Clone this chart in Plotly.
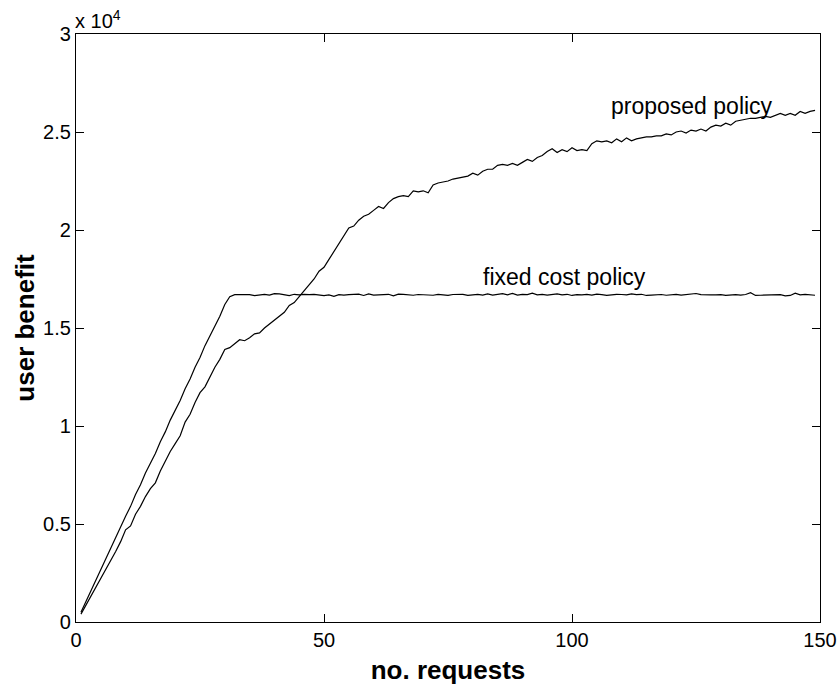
import plotly.graph_objects as go

requests = list(range(1, 150))

proposed = [
    400, 850, 1300, 1800, 2250, 2700, 3150, 3600, 4100, 4700,
    4900, 5500, 5900, 6400, 6800, 7100, 7700, 8200, 8700, 9100,
    9500, 10200, 10600, 11200, 11700, 12000, 12500, 13000, 13400, 13900,
    14000, 14200, 14400, 14350, 14500, 14700, 14750, 15000, 15200, 15400,
    15600, 15800, 16150, 16300, 16600, 16900, 17200, 17500, 17900, 18100,
    18500, 18900, 19300, 19700, 20100, 20200, 20500, 20700, 20800, 21000,
    21200, 21100, 21400, 21600, 21700, 21750, 21700, 22000, 21950, 22000,
    21900, 22300, 22400, 22450, 22500, 22600, 22650, 22700, 22750, 22900,
    22800, 23000, 23100, 23100, 23300, 23350, 23300, 23400, 23300, 23450,
    23600, 23500, 23700, 23800, 24000, 24150, 23950, 24100, 24000, 24200,
    24050, 24100, 24050, 24400, 24550, 24500, 24550, 24450, 24650, 24500,
    24700, 24550, 24650, 24700, 24750, 24750, 24800, 24800, 24900, 24850,
    25000, 25050, 24950, 25100, 25050, 25150, 25050, 25250, 25350, 25300,
    25450, 25350, 25550, 25600, 25650, 25700, 25700, 25750, 25800, 25750,
    25850, 25950, 25850, 25950, 25850, 26050, 25950, 26050, 26100,
]

fixed_cost = [
    500, 1050, 1600, 2150, 2700, 3250, 3750, 4300, 4900, 5400,
    5900, 6500, 7000, 7600, 8100, 8600, 9200, 9700, 10300, 10800,
    11300, 11900, 12400, 13000, 13500, 14100, 14600, 15100, 15600, 16200,
    16600, 16700, 16700, 16680, 16700, 16650, 16700, 16720, 16680, 16750,
    16740, 16700, 16650, 16720, 16690, 16720, 16700, 16720, 16680, 16650,
    16690, 16620, 16700, 16680, 16700, 16720, 16730, 16660, 16740, 16680,
    16690, 16730, 16720, 16640, 16730, 16720, 16700, 16670, 16710, 16690,
    16700, 16670, 16720, 16690, 16660, 16710, 16700, 16720, 16670, 16700,
    16720, 16680, 16740, 16680, 16720, 16750, 16690, 16760, 16680, 16720,
    16700, 16780, 16690, 16720, 16680, 16700, 16740, 16690, 16720, 16660,
    16700, 16690, 16720, 16680, 16730, 16700, 16660, 16690, 16720, 16710,
    16690, 16740, 16700, 16720, 16660, 16680, 16700, 16710, 16670, 16700,
    16720, 16680, 16700, 16720, 16760, 16700, 16680, 16690, 16690, 16700,
    16660, 16680, 16700, 16680, 16710, 16800, 16660, 16670, 16680, 16660,
    16690, 16700, 16640, 16660, 16780, 16690, 16720, 16680, 16670,
]

x_ticks = [0, 50, 100, 150]
y_tickvals = [0, 5000, 10000, 15000, 20000, 25000, 30000]
y_ticktext = ["0", "0.5", "1", "1.5", "2", "2.5", "3"]

FONT = "Liberation Sans, Arial, Helvetica, sans-serif"

fig = go.Figure()
fig.add_trace(go.Scatter(x=requests, y=proposed, mode="lines",
                         line=dict(color="black", width=1.2), showlegend=False))
fig.add_trace(go.Scatter(x=requests, y=fixed_cost, mode="lines",
                         line=dict(color="black", width=1.2), showlegend=False))

fig.add_annotation(x=124.1, y=26350, text="proposed policy", showarrow=False,
                   xref="x", yref="y", font=dict(size=23, color="black", family=FONT))
fig.add_annotation(x=98.4, y=17600, text="fixed cost policy", showarrow=False,
                   xref="x", yref="y", font=dict(size=23, color="black", family=FONT))
fig.add_annotation(x=0, y=1.0, xref="paper", yref="paper", xanchor="left", yanchor="bottom",
                   yshift=0, xshift=-3, text="x 10<sup>4</sup>", showarrow=False,
                   font=dict(size=20, color="black", family=FONT))

fig.update_layout(
    width=837, height=685,
    margin=dict(l=76, r=17, t=34, b=63),
    paper_bgcolor="white", plot_bgcolor="white",
    font=dict(family=FONT, color="black", size=20),
    xaxis=dict(range=[0, 150], tickvals=x_ticks, ticks="inside", ticklen=8,
               tickcolor="black", showline=True, linecolor="black", linewidth=1.2,
               mirror="ticks", showgrid=False, zeroline=False, automargin=False,
               tickfont=dict(size=20),
               title=dict(text="<b>no. requests</b>", font=dict(size=26), standoff=10)),
    yaxis=dict(range=[0, 30000], tickvals=y_tickvals, ticktext=y_ticktext,
               ticks="inside", ticklen=8, tickcolor="black", showline=True,
               linecolor="black", linewidth=1.2, mirror="ticks", showgrid=False,
               zeroline=False, automargin=False, tickfont=dict(size=20),
               title=dict(text="<b>user benefit</b>", font=dict(size=26), standoff=0)),
)

fig.write_html("out.html", config={"displayModeBar": False},
               post_script="document.body.style.margin='0';document.body.style.overflow='hidden';")
